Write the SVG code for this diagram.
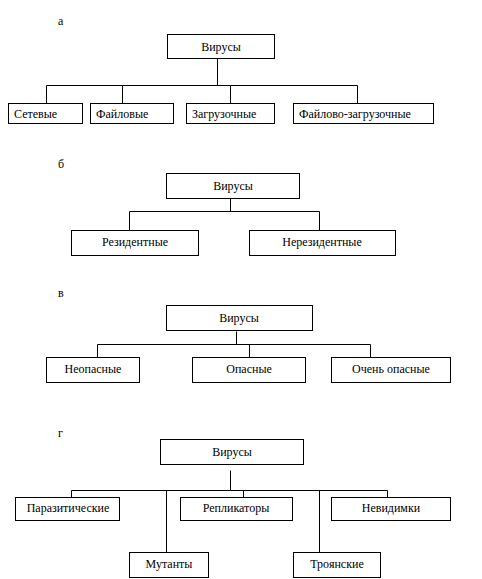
<svg xmlns="http://www.w3.org/2000/svg" width="482" height="579" viewBox="0 0 482 579" font-family="'Liberation Serif', 'DejaVu Serif', serif" font-size="12">
<style>
rect{fill:#fff;stroke:#000;stroke-width:1}
text{font-family:'Liberation Serif', 'DejaVu Serif', serif;font-size:12px;fill:#000}
.c{text-anchor:middle}
#connectors path{fill:none;stroke:#000;stroke-width:1}
</style>
<rect x="0" y="0" width="482" height="579" style="stroke:none"/>
<text x="58" y="25">а</text>
<text x="58" y="168">б</text>
<text x="58" y="297">в</text>
<text x="58" y="437">г</text>
<g id="connectors">
<path d="M217.5 58.5V85.5M46.5 85.5H357.5M46.5 85.5V103.5M122.5 85.5V103.5M230.5 85.5V103.5M357.5 85.5V103.5"/>
<path d="M230.5 198.5V211.5M129.5 211.5H319.5M129.5 211.5V230.5M319.5 211.5V230.5"/>
<path d="M236.5 331.5V344.5M97.5 344.5H370.5M97.5 344.5V357.5M249.5 344.5V357.5M370.5 344.5V357.5"/>
<path d="M230.5 470.5V490.5M71.5 490.5H387.5M71.5 490.5V497.5M166.5 490.5V552.5M243.5 490.5V497.5M319.5 490.5V552.5M387.5 490.5V497.5"/>
</g>
<g id="a-root"><rect x="167.5" y="34.5" width="107" height="24"/><text class="c" x="221" y="51">Вирусы</text></g>
<g id="a-net"><rect x="8.5" y="103.5" width="74" height="20"/><text x="14" y="118">Сетевые</text></g>
<g id="a-file"><rect x="90.5" y="103.5" width="83" height="20"/><text x="96" y="118">Файловые</text></g>
<g id="a-boot"><rect x="186.5" y="103.5" width="88" height="20"/><text x="192" y="118">Загрузочные</text></g>
<g id="a-fileboot"><rect x="293.5" y="103.5" width="140" height="20"/><text x="299" y="118">Файлово-загрузочные</text></g>
<g id="b-root"><rect x="166.5" y="173.5" width="133" height="25"/><text class="c" x="233" y="190">Вирусы</text></g>
<g id="b-res"><rect x="71.5" y="230.5" width="127" height="25"/><text class="c" x="135" y="246">Резидентные</text></g>
<g id="b-nonres"><rect x="249.5" y="230.5" width="146" height="25"/><text class="c" x="322" y="246">Нерезидентные</text></g>
<g id="c-root"><rect x="166.5" y="305.5" width="146" height="25"/><text class="c" x="239" y="322">Вирусы</text></g>
<g id="c-safe"><rect x="46.5" y="357.5" width="93" height="25"/><text class="c" x="93" y="373">Неопасные</text></g>
<g id="c-danger"><rect x="192.5" y="357.5" width="113" height="25"/><text class="c" x="249" y="373">Опасные</text></g>
<g id="c-very"><rect x="331.5" y="357.5" width="119" height="25"/><text class="c" x="391" y="373">Очень опасные</text></g>
<g id="d-root"><rect x="160.5" y="439.5" width="143" height="25"/><text class="c" x="232" y="456">Вирусы</text></g>
<g id="d-par"><rect x="15.5" y="497.5" width="104" height="23"/><text class="c" x="68" y="512">Паразитические</text></g>
<g id="d-rep"><rect x="180.5" y="497.5" width="112" height="23"/><text class="c" x="236" y="512">Репликаторы</text></g>
<g id="d-inv"><rect x="331.5" y="497.5" width="119" height="23"/><text class="c" x="391" y="512">Невидимки</text></g>
<g id="d-mut"><rect x="129.5" y="552.5" width="79" height="25"/><text class="c" x="169" y="568">Мутанты</text></g>
<g id="d-troj"><rect x="293.5" y="552.5" width="87" height="25"/><text class="c" x="337" y="568">Троянские</text></g>
</svg>
